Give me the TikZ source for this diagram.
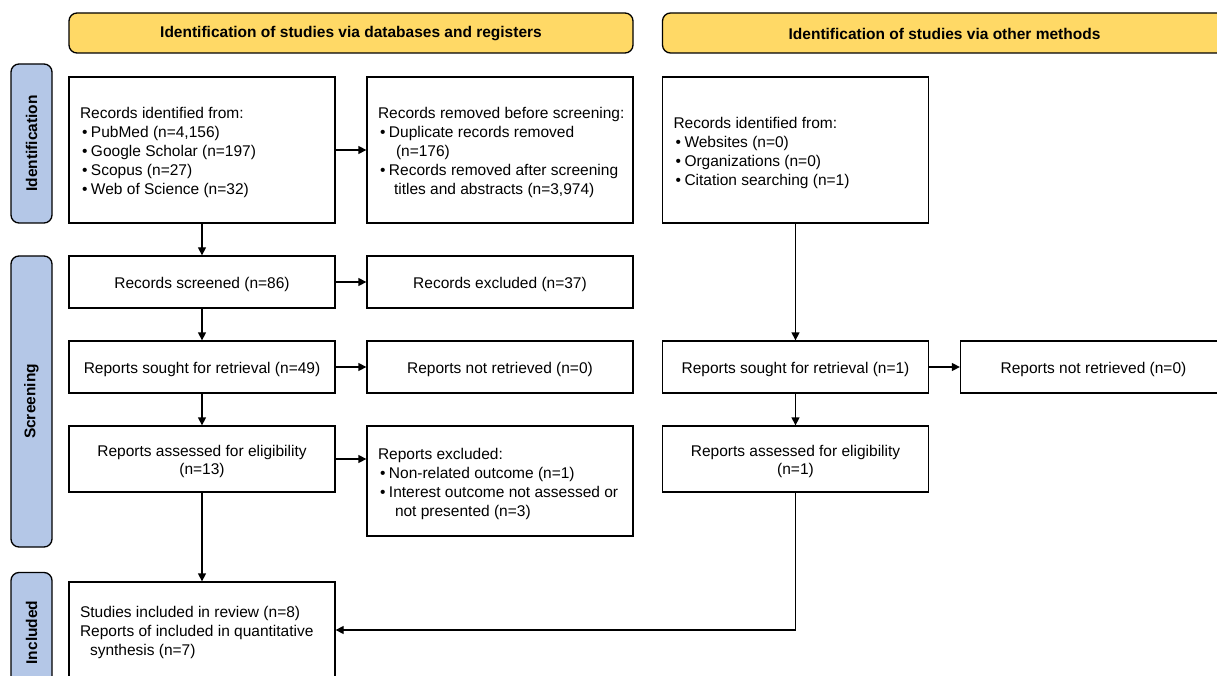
\documentclass[tikz,border=0pt]{standalone}
\usepackage{fontspec}
\setmainfont{Liberation Sans}
\usetikzlibrary{arrows.meta,calc}
\definecolor{hdryellow}{HTML}{FFD966}
\definecolor{sideblue}{HTML}{B4C7E7}
\newcommand{\lowr}[1]{\raisebox{-2.5pt}[\height][\depth]{#1}}
\newcommand{\lowh}[1]{\raisebox{-1pt}[\height][\depth]{#1}}
\newcommand{\lpar}[1]{\lowr{\parbox{244pt}{\raggedright #1}}}
\newcommand{\ind}[2]{\makebox[#1][l]{}#2}
\newcommand{\bul}[1]{\makebox[2pt][l]{}\makebox[9pt][l]{•}#1}
\begin{document}
\begin{tikzpicture}[x=1pt,y=-1pt,
  every node/.style={font=\fontsize{15.5}{19}\selectfont},
  box/.style={draw, line width=1.3pt, minimum width=266pt, inner xsep=11pt, inner ysep=0pt, align=center},
  hdr/.style={draw, line width=1.3pt, rounded corners=8pt, fill=hdryellow, minimum width=564pt, minimum height=40pt, font=\fontsize{15.5}{19}\selectfont\bfseries},
  side/.style={draw, line width=1.3pt, rounded corners=8pt, fill=sideblue, minimum width=41pt, inner sep=0pt},
  sidetext/.style={rotate=90, font=\fontsize{15.5}{19}\selectfont\bfseries},
  arr/.style={line width=1.3pt, -{Triangle[length=8pt,width=8pt]}}
]
\useasboundingbox (0,0) rectangle (1217,676);
\clip (0,0) rectangle (1217,676);

% headers
\node[hdr] (h1) at (351,33) {\lowh{Identification of studies via databases and registers}};
\node[hdr] (h2) at (944.5,33) {\lowh{Identification of studies via other methods}};

% side labels
\node[side, minimum height=159pt] (s1) at (31.5,143.5) {};
\node[sidetext] at (s1.center) {Identification};
\node[side, minimum height=291pt] (s2) at (31.5,401.5) {};
\node[sidetext] at (s2.center) {Screening};
\node[side, minimum height=120pt] (s3) at (31.5,632.5) {};
\node[sidetext] at (s3.center) {Included};

% left column
\node[box, minimum height=146pt] (A) at (202,150) {\lpar{Records identified from:\\
\bul{PubMed (n=4,156)}\\
\bul{Google Scholar (n=197)}\\
\bul{Scopus (n=27)}\\
\bul{Web of Science (n=32)}}};
\node[box, minimum height=146pt] (B) at (500,150) {\lpar{\mbox{Records removed before screening:}\\
\bul{Duplicate records removed}\\
\ind{18pt}{(n=176)}\\
\bul{Records removed after screening}\\
\ind{16pt}{titles and abstracts (n=3,974)}}};
\node[box, minimum height=52pt] (D) at (202,282) {\lowr{Records screened (n=86)}};
\node[box, minimum height=52pt] (E) at (500,282) {\lowr{Records excluded (n=37)}};
\node[box, minimum height=52pt] (F) at (202,367) {\lowr{Reports sought for retrieval (n=49)}};
\node[box, minimum height=52pt] (G) at (500,367) {\lowr{Reports not retrieved (n=0)}};
\node[box, minimum height=66pt] (J) at (202,459) {\lowr{\shortstack{Reports assessed for eligibility\\(n=13)}}};
\node[box, minimum height=110pt] (K) at (500,481) {\lpar{Reports excluded:\\
\bul{Non-related outcome (n=1)}\\
\bul{Interest outcome not assessed or}\\
\ind{17pt}{not presented (n=3)}}};
\node[box, minimum height=96pt] (M) at (202,630) {\lpar{Studies included in review (n=8)\\
Reports of included in quantitative\\
\ind{10pt}{synthesis (n=7)}}};

% right column
\node[box, minimum height=146pt] (C) at (795.5,150) {\lpar{Records identified from:\\
\bul{Websites (n=0)}\\
\bul{Organizations (n=0)}\\
\bul{Citation searching (n=1)}}};
\node[box, minimum height=52pt] (H) at (795.5,367) {\lowr{Reports sought for retrieval (n=1)}};
\node[box, minimum height=52pt] (I) at (1093.5,367) {\lowr{Reports not retrieved (n=0)}};
\node[box, minimum height=66pt] (L) at (795.5,459) {\lowr{\shortstack{Reports assessed for eligibility\\(n=1)}}};

% connectors
\draw[arr] (A) -- (D);
\draw[arr] (D) -- (F);
\draw[arr] (F) -- (J);
\draw[arr] (J) -- (M);
\draw[arr] (A) -- (B);
\draw[arr] (D) -- (E);
\draw[arr] (F) -- (G);
\draw[arr] (J.east) -- (J.east -| K.west);
\draw[arr] (C) -- (H);
\draw[arr] (H) -- (I);
\draw[arr] (H) -- (L);
\draw[arr] (L.south) |- (M.east);
\end{tikzpicture}
\end{document}
